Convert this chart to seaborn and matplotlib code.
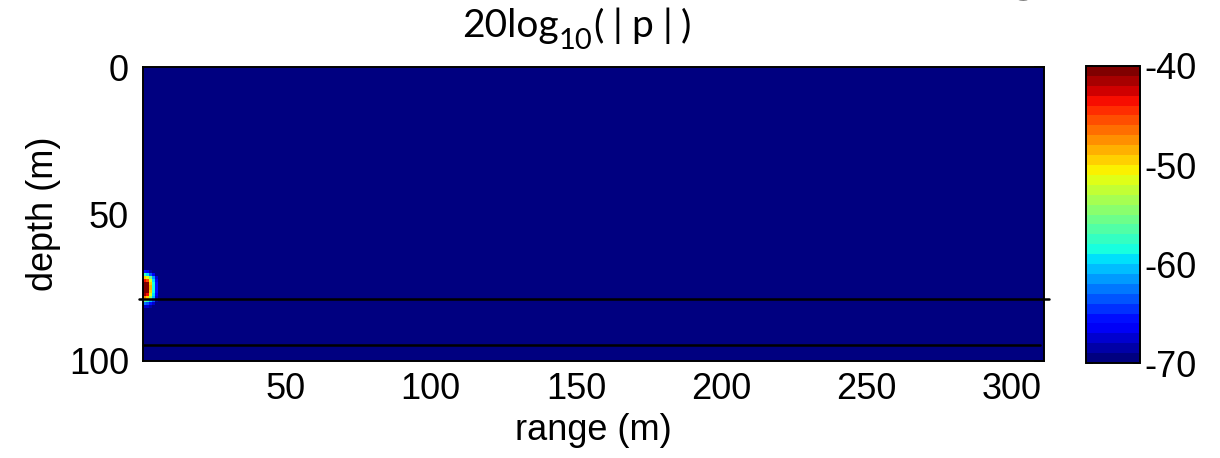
import numpy as np
import pandas as pd
import matplotlib
matplotlib.use("Agg")
import matplotlib.pyplot as plt
import seaborn as sns

# --- data -------------------------------------------------------------
range_start_m = 1.0           # first range cell edge (m)
range_step_m = 1.0            # range cell size (m)
n_range = 310                 # number of range cells
depth_step_m = 1.0            # depth cell size (m)
n_depth = 100                 # number of depth cells
background_db = -70.0         # field level away from the source (dB)

# source neighbourhood: rows are depth cells 69..81 m, columns are range cells 1..6 m
source_first_depth = 69
source_first_range_col = 0
source_field_db = [
    [-66, -67, -69, -70, -70],
    [-58, -60, -64, -67, -70],
    [-50, -52, -56, -62, -68],
    [-44, -46, -52, -60, -67],
    [-40, -41, -50, -59, -66],
    [-40, -40, -49, -59, -66],
    [-40, -40, -49, -59, -66],
    [-40, -41, -50, -59, -66],
    [-42, -44, -52, -60, -67],
    [-48, -50, -55, -61, -68],
    [-56, -58, -61, -64, -69],
    [-63, -64, -66, -68, -70],
    [-68, -68, -69, -70, -70],
]

# horizontal interfaces: depth (m), start range (m), end range (m)
interface_depths = [79.0, 94.6]
interface_starts = [-0.5, 1.0]
interface_ends = [312.7, 309.7]

x_ticks = [50, 100, 150, 200, 250, 300]
y_ticks = [0, 50, 100]
cbar_ticks = [-70, -60, -50, -40]
vmin, vmax = -70, -40

title_parts = ["20log", "10", "(|p|)"]

# --- field ------------------------------------------------------------
field = np.full((n_depth, n_range), background_db)
blob = np.array(source_field_db, dtype=float)
r0 = source_first_depth
c0 = source_first_range_col
field[r0:r0 + blob.shape[0], c0:c0 + blob.shape[1]] = blob
df = pd.DataFrame(field)

# --- figure -----------------------------------------------------------
sns.set_theme(style="white")
plt.rcParams["font.family"] = ["Liberation Sans", "DejaVu Sans"]
plt.rcParams["axes.linewidth"] = 1.4
plt.rcParams["axes.unicode_minus"] = False

W, H = 1220, 458
fig = plt.figure(figsize=(W / 100, H / 100), dpi=100)
ax = fig.add_axes([0.1172, 0.2118, 0.7385, 0.6419])
cax = fig.add_axes([0.8902, 0.2074, 0.0443, 0.6485])

cmap = matplotlib.colormaps["jet"].resampled(30)
sns.heatmap(df, ax=ax, cmap=cmap, vmin=vmin, vmax=vmax, cbar_ax=cax,
            xticklabels=False, yticklabels=False, linewidths=0,
            cbar_kws={"ticks": cbar_ticks})


def rx(r):
    return (r - range_start_m) / range_step_m


def dy(d):
    return d / depth_step_m


for d, a, b in zip(interface_depths, interface_starts, interface_ends):
    ax.plot([rx(a), rx(b)], [dy(d), dy(d)], color="black", lw=1.8,
            clip_on=False, zorder=5)

ax.set_xlim(0, n_range)
ax.set_ylim(n_depth, 0)
ax.set_xticks([rx(v) for v in x_ticks])
ax.set_xticklabels([str(v) for v in x_ticks])
ax.set_yticks([dy(v) for v in y_ticks])
ax.set_yticklabels([str(v) for v in y_ticks])
ax.tick_params(axis="both", which="both", direction="in", length=7, width=1.2,
               top=True, right=True, labelsize=26, colors="black", pad=8)
ax.tick_params(axis="y", pad=10)
for s in ax.spines.values():
    s.set_visible(True)
    s.set_color("black")
    s.set_linewidth(1.4)

ax.set_xlabel("range (m)", fontsize=26, labelpad=4, color="black")
ax.set_ylabel("depth (m)", fontsize=26, labelpad=6, color="black")

cax.tick_params(axis="y", direction="in", length=5, width=1.2, left=True,
                right=True, labelsize=26, colors="black", pad=3)
cax.yaxis.set_ticks_position("both")
cax.yaxis.set_label_position("right")
for lab in cax.get_yticklabels():
    lab.set_horizontalalignment("left")
cbar = ax.collections[0].colorbar
cbar.outline.set_visible(True)
cbar.outline.set_edgecolor("black")
cbar.outline.set_linewidth(1.4)

# title built from pieces so the subscript sits like a slide caption;
# the bracketed part is set with open letter spacing
renderer = fig.canvas.get_renderer()
tfont = ["Lato", "DejaVu Sans"]
x_px = 462.0
base_px = 37.0
sizes = [28, 21, 28]
drops = [0.0, 12.0, 0.0]
tracking = [0.0, 1.0, 9.0]
for txt, fs, drop, gap in zip(title_parts, sizes, drops, tracking):
    chunks = list(txt) if gap > 2 else [txt]
    for ch in chunks:
        t = fig.text(x_px / W, 1 - (base_px + drop) / H, ch, ha="left",
                     va="baseline", fontsize=fs, family=tfont, color="black")
        x_px += t.get_window_extent(renderer).width + gap

# descender of a heading that runs off the top edge
fig.text(0.8385, 1.0 + 11 / H, "g", ha="center", va="baseline", fontsize=44,
         family=tfont, color="black")

fig.savefig("out.png", dpi=100)
